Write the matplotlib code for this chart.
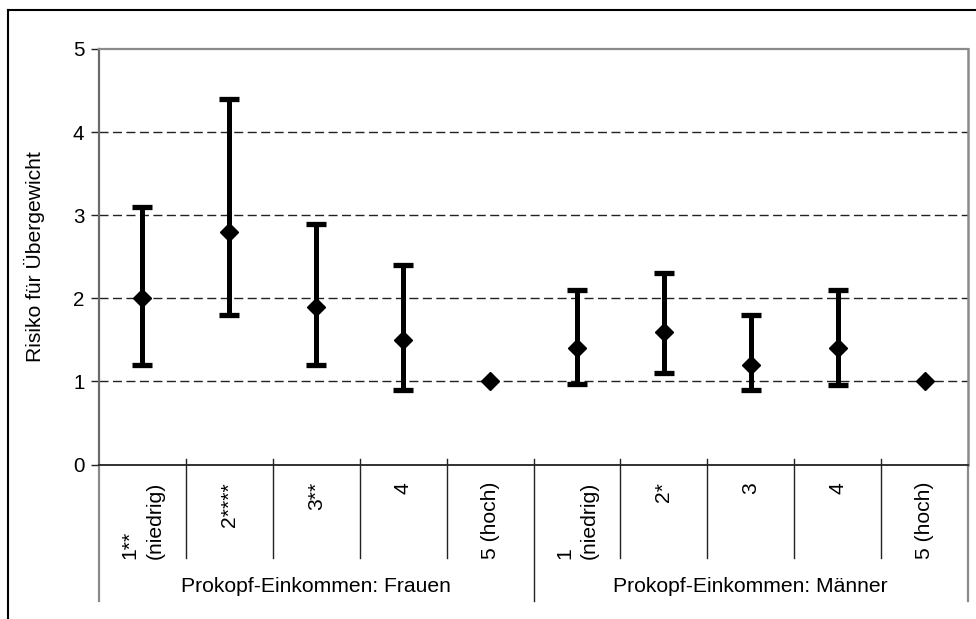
import matplotlib
matplotlib.use("Agg")
import matplotlib.pyplot as plt
import numpy as np
from matplotlib.lines import Line2D
import matplotlib.transforms as mtransforms

plt.rcParams['font.family'] = ['Liberation Sans', 'DejaVu Sans']

# ---- data ----
categories = ["1**\n(niedrig)", "2****", "3**", "4", "5 (hoch)",
              "1\n(niedrig)", "2*", "3", "4", "5 (hoch)"]
groups = ["Prokopf-Einkommen: Frauen", "Prokopf-Einkommen: Männer"]
risk = [2.0, 2.8, 1.9, 1.5, 1.0, 1.4, 1.6, 1.2, 1.4, 1.0]
ci_low = [1.2, 1.8, 1.2, 0.9, None, 0.97, 1.1, 0.9, 0.96, None]
ci_high = [3.1, 4.4, 2.9, 2.4, None, 2.1, 2.3, 1.8, 2.1, None]
yticks = [0, 1, 2, 3, 4, 5]
ylabel = "Risiko für Übergewicht"

W, H = 976, 619
fig = plt.figure(figsize=(W / 100, H / 100), dpi=100)
L, R, T, B = 99, 968, 49, 464.5
ax = fig.add_axes([L / W, 1 - B / H, (R - L) / W, (B - T) / H])
axh = B - T

x = np.arange(len(categories))
ax.set_xlim(-0.5, len(categories) - 0.5)
ax.set_ylim(0, 5)

# gridlines
for v in yticks[1:-1]:
    ax.axhline(v, color='#222222', lw=1.0, ls=(0, (6.5, 3.2)), zorder=1)

# error bars
idx = [i for i in range(len(risk)) if ci_low[i] is not None]
xe = x[idx]
ye = np.array([risk[i] for i in idx])
lo = ye - np.array([ci_low[i] for i in idx])
hi = np.array([ci_high[i] for i in idx]) - ye
ax.errorbar(xe, ye, yerr=[lo, hi], fmt='none', ecolor='black',
            elinewidth=3.6, capsize=7.0, capthick=3.8, zorder=3)
ax.plot(x, risk, ls='none', marker='D', color='black', markersize=9.6, zorder=4)

# spines
ax.spines['top'].set_color('#8a8a8a'); ax.spines['top'].set_linewidth(1.6)
ax.spines['right'].set_color('#8a8a8a'); ax.spines['right'].set_linewidth(1.8)
ax.spines['left'].set_color('#6a6a6a'); ax.spines['left'].set_linewidth(1.6)
ax.spines['bottom'].set_color('#222222'); ax.spines['bottom'].set_linewidth(1.3)

ax.set_yticks(yticks)
ax.set_yticklabels([str(v) for v in yticks])
ax.tick_params(axis='y', length=5.5, width=1.0, color='#222222', labelsize=14.8, pad=5)
ax.set_xticks([])
ax.set_ylabel(ylabel, fontsize=15.2)
ax.yaxis.set_label_coords(-(L - 45.5) / (R - L), 0.5)

# category separators / ticks
trans = mtransforms.blended_transform_factory(ax.transData, ax.transAxes)
up = 6 / axh
for b in np.arange(-0.5, len(categories), 1.0):
    k = int(b + 0.5)
    if k in (0, len(categories)):
        ax.add_line(Line2D([b, b], [-136 / axh, 0], transform=trans, color='#8a8a8a',
                           lw=1.6, clip_on=False))
    elif k == 5:
        ax.add_line(Line2D([b, b], [-136 / axh, up], transform=trans, color='#222222',
                           lw=1.0, clip_on=False))
    else:
        ax.add_line(Line2D([b, b], [-93 / axh, up], transform=trans, color='#222222',
                           lw=1.0, clip_on=False))

# category labels
for i, lab in enumerate(categories):
    ax.text(i, -(482 - B) / axh, lab, transform=trans, rotation=90, ha='center',
            va='top', multialignment='left', fontsize=15.2, linespacing=1.4)

# group labels
for g, name in enumerate(groups):
    ax.text(2 + 5 * g, -(587 - B) / axh, name, transform=trans, ha='center',
            va='center', fontsize=15.2)

# outer frame
fig.add_artist(Line2D([8 / W, 1.0], [1 - 10 / H, 1 - 10 / H], transform=fig.transFigure,
                      color='black', lw=1.5))
fig.add_artist(Line2D([8 / W, 8 / W], [0, 1 - 10 / H], transform=fig.transFigure,
                      color='black', lw=1.5))

fig.savefig("out.png", dpi=100)
